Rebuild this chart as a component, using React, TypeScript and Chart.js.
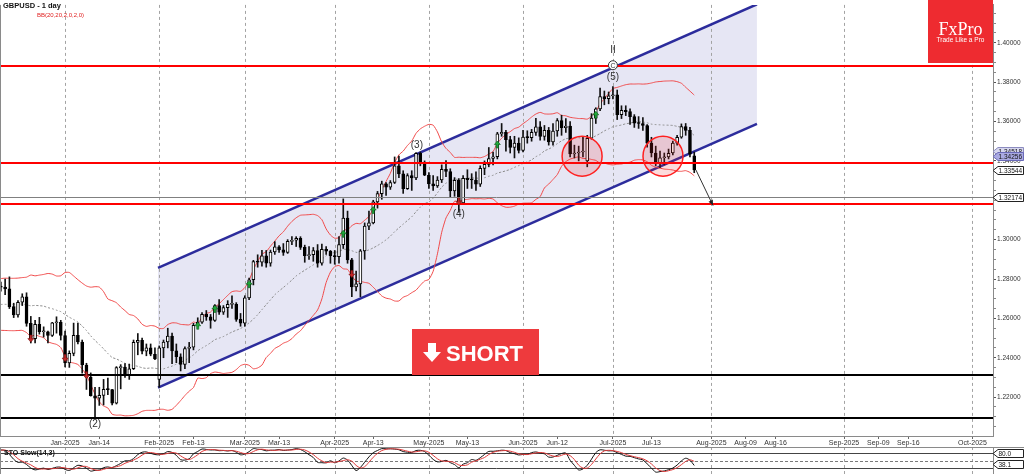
import React, { useEffect, useRef } from "react";
import { Chart, registerables } from "chart.js";

Chart.register(...registerables);

const FONT = "'Liberation Sans', Arial, Helvetica, sans-serif";

// ---------------- DATA ----------------
// bar index 0 = 2 Jan 2025 (trading days; future part counts calendar days)
const FIRST_INDEX = -36; // 11 Nov 2024

// Nov 2024 | Dec 2024 | Jan | Feb | Mar | Apr | May | Jun | Jul 2025
const opens = [
  1.2915, 1.2874, 1.2756, 1.2739, 1.2675, 1.2621, 1.2663, 1.2677, 1.2664, 1.2588, 1.2531, 1.2567, 1.257, 1.2668, 1.2687,
  1.2733, 1.266, 1.2669, 1.2694, 1.2745, 1.2743, 1.2764, 1.2759, 1.275, 1.266, 1.2618, 1.2682, 1.2709, 1.2575, 1.2497, 1.257, 1.2532, 1.2532, 1.2514, 1.2578, 1.258,
  1.2513, 1.2374, 1.2422, 1.2514, 1.248, 1.2363, 1.2301, 1.2207, 1.2195, 1.2209, 1.224, 1.2238, 1.2169, 1.235, 1.2353, 1.231, 1.2344, 1.2478, 1.2488, 1.2433, 1.2451, 1.2418,
  1.229, 1.245, 1.248, 1.251, 1.2435, 1.2405, 1.2366, 1.2447, 1.2454, 1.2565, 1.2581, 1.262, 1.2608, 1.2589, 1.2665, 1.2631, 1.2655, 1.2671, 1.2671, 1.2595,
  1.2576, 1.2704, 1.2796, 1.2888, 1.2886, 1.2918, 1.288, 1.2937, 1.2963, 1.2948, 1.2935, 1.2991, 1.2997, 1.3006, 1.2961, 1.2918, 1.2924, 1.2945, 1.288, 1.2951, 1.2942,
  1.2918, 1.2914, 1.2975, 1.311, 1.2897, 1.276, 1.2775, 1.2943, 1.3069, 1.3085, 1.3192, 1.3234, 1.3283, 1.3266, 1.329, 1.3375, 1.3334, 1.3259, 1.3325, 1.3313, 1.3438, 1.3384,
  1.3327, 1.3283, 1.3273, 1.3303, 1.3357, 1.3346, 1.3247, 1.3301, 1.3187, 1.3312, 1.3305, 1.3303, 1.3282, 1.3362, 1.3382, 1.3412, 1.3421, 1.3537, 1.3545, 1.3508, 1.3469, 1.349,
  1.3453, 1.3521, 1.3518, 1.3545, 1.3573, 1.3524, 1.3555, 1.3496, 1.3552, 1.3605, 1.3569, 1.3577, 1.3435, 1.344, 1.3445, 1.34, 1.3515, 1.3617, 1.3664, 1.3727, 1.3716,
  1.3731, 1.3735, 1.3635, 1.3657, 1.365, 1.3625, 1.3592, 1.359, 1.358, 1.349, 1.344, 1.3388, 1.3416, 1.342, 1.344, 1.349, 1.352, 1.3574, 1.3555, 1.3426,
];
const highs = [
  1.2935, 1.288, 1.277, 1.2749, 1.2694, 1.2668, 1.2711, 1.272, 1.2665, 1.26, 1.261, 1.2599, 1.2697, 1.2706, 1.2749,
  1.2745, 1.2697, 1.2716, 1.2763, 1.2768, 1.278, 1.2785, 1.28, 1.2811, 1.2677, 1.269, 1.2725, 1.273, 1.261, 1.259, 1.2605, 1.2557, 1.2535, 1.258, 1.2608, 1.259,
  1.2536, 1.2435, 1.2576, 1.2576, 1.249, 1.2372, 1.2323, 1.225, 1.225, 1.229, 1.2297, 1.224, 1.2355, 1.2365, 1.237, 1.2368, 1.249, 1.2523, 1.25, 1.247, 1.247, 1.245,
  1.246, 1.249, 1.255, 1.2525, 1.247, 1.242, 1.2455, 1.2478, 1.2575, 1.2603, 1.263, 1.264, 1.262, 1.267, 1.2695, 1.2665, 1.269, 1.2715, 1.268, 1.2625,
  1.2715, 1.2805, 1.2895, 1.2923, 1.2946, 1.2945, 1.2947, 1.299, 1.297, 1.298, 1.3, 1.3015, 1.3015, 1.3015, 1.2972, 1.2965, 1.296, 1.2975, 1.2977, 1.2965, 1.2945,
  1.2945, 1.3015, 1.3207, 1.3145, 1.2905, 1.284, 1.295, 1.3085, 1.3145, 1.32, 1.3245, 1.3297, 1.329, 1.33, 1.342, 1.3425, 1.335, 1.3335, 1.335, 1.3442, 1.3445, 1.34,
  1.334, 1.3325, 1.332, 1.338, 1.3402, 1.336, 1.3315, 1.331, 1.3325, 1.3355, 1.3335, 1.3345, 1.3375, 1.34, 1.3468, 1.3445, 1.3545, 1.359, 1.3555, 1.3525, 1.3525, 1.3517,
  1.3555, 1.3553, 1.356, 1.3616, 1.36, 1.358, 1.357, 1.359, 1.3615, 1.3632, 1.3615, 1.36, 1.348, 1.3475, 1.352, 1.353, 1.364, 1.367, 1.377, 1.3755, 1.375,
  1.3778, 1.376, 1.368, 1.368, 1.3665, 1.3635, 1.3625, 1.362, 1.3585, 1.352, 1.3475, 1.345, 1.344, 1.346, 1.35, 1.353, 1.3588, 1.359, 1.357, 1.3445,
];
const lows = [
  1.286, 1.2737, 1.271, 1.263, 1.2597, 1.2595, 1.2615, 1.2655, 1.258, 1.2487, 1.253, 1.2519, 1.256, 1.2652, 1.2674,
  1.2615, 1.262, 1.2637, 1.269, 1.2715, 1.271, 1.2738, 1.272, 1.265, 1.2604, 1.2606, 1.2665, 1.256, 1.2475, 1.2475, 1.252, 1.2505, 1.2475, 1.2508, 1.2525, 1.249,
  1.2353, 1.2351, 1.241, 1.247, 1.2322, 1.2239, 1.2205, 1.21, 1.2158, 1.216, 1.2212, 1.216, 1.2165, 1.2242, 1.23, 1.229, 1.234, 1.2415, 1.242, 1.241, 1.241, 1.239,
  1.225, 1.24, 1.245, 1.237, 1.2375, 1.2333, 1.2345, 1.2375, 1.244, 1.2555, 1.2575, 1.259, 1.255, 1.2585, 1.262, 1.262, 1.2605, 1.265, 1.2585, 1.256,
  1.256, 1.2695, 1.277, 1.286, 1.2865, 1.286, 1.2865, 1.2925, 1.2935, 1.292, 1.293, 1.2975, 1.2965, 1.295, 1.2885, 1.29, 1.289, 1.286, 1.287, 1.2925, 1.288,
  1.2875, 1.288, 1.2955, 1.288, 1.271, 1.274, 1.271, 1.29, 1.305, 1.308, 1.316, 1.3205, 1.3225, 1.3255, 1.3285, 1.3315, 1.3235, 1.3255, 1.325, 1.3305, 1.3375, 1.3325,
  1.326, 1.325, 1.3265, 1.329, 1.332, 1.3215, 1.322, 1.314, 1.318, 1.326, 1.326, 1.325, 1.327, 1.333, 1.337, 1.338, 1.341, 1.3525, 1.345, 1.344, 1.3415, 1.344,
  1.3445, 1.349, 1.35, 1.353, 1.3505, 1.3505, 1.348, 1.348, 1.3525, 1.353, 1.3545, 1.342, 1.3415, 1.34, 1.342, 1.337, 1.351, 1.359, 1.3655, 1.3685, 1.369,
  1.3715, 1.361, 1.3615, 1.363, 1.3585, 1.357, 1.3565, 1.3555, 1.347, 1.342, 1.3375, 1.3365, 1.338, 1.341, 1.343, 1.348, 1.3515, 1.353, 1.342, 1.334,
];
const closes = [
  1.2874, 1.2756, 1.2739, 1.2675, 1.2621, 1.2663, 1.2677, 1.2664, 1.2588, 1.2531, 1.2567, 1.257, 1.2668, 1.2687, 1.2733,
  1.266, 1.2669, 1.2694, 1.2745, 1.2743, 1.2764, 1.2759, 1.275, 1.266, 1.2618, 1.2682, 1.2709, 1.2575, 1.2497, 1.257, 1.2532, 1.2532, 1.2514, 1.2578, 1.258, 1.2513,
  1.2374, 1.2422, 1.2514, 1.248, 1.2363, 1.2301, 1.2207, 1.2195, 1.2209, 1.224, 1.2238, 1.2169, 1.235, 1.2353, 1.231, 1.2344, 1.2478, 1.2488, 1.2433, 1.2451, 1.2418, 1.2394,
  1.245, 1.248, 1.251, 1.2435, 1.2405, 1.2366, 1.2447, 1.2454, 1.2565, 1.2581, 1.262, 1.2608, 1.2589, 1.2665, 1.2631, 1.2655, 1.2671, 1.2671, 1.2595, 1.2576,
  1.2704, 1.2796, 1.2888, 1.2886, 1.2918, 1.288, 1.2937, 1.2963, 1.2948, 1.2935, 1.2991, 1.2997, 1.3006, 1.2961, 1.2918, 1.2924, 1.2945, 1.288, 1.2951, 1.2942, 1.2918,
  1.2914, 1.2975, 1.311, 1.2897, 1.276, 1.2775, 1.2943, 1.3069, 1.3085, 1.3192, 1.3234, 1.3283, 1.3266, 1.329, 1.3375, 1.3334, 1.3259, 1.3325, 1.3313, 1.3438, 1.3384, 1.3327,
  1.3283, 1.3273, 1.3303, 1.3357, 1.3346, 1.3247, 1.3301, 1.3187, 1.3312, 1.3305, 1.3303, 1.3282, 1.3362, 1.3382, 1.3412, 1.3421, 1.3537, 1.3545, 1.3508, 1.3469, 1.349, 1.3453,
  1.3521, 1.3518, 1.3545, 1.3573, 1.3524, 1.3555, 1.3496, 1.3552, 1.3605, 1.3569, 1.3577, 1.3435, 1.344, 1.3445, 1.345, 1.3515, 1.3617, 1.3664, 1.3727, 1.3716, 1.3731,
  1.3735, 1.3635, 1.3657, 1.365, 1.3625, 1.3592, 1.359, 1.358, 1.349, 1.344, 1.3388, 1.3416, 1.342, 1.3439, 1.349, 1.352, 1.3574, 1.3555, 1.3434, 1.3354,
];

// x axis ticks (bar index) and labels
const xTickIndex = [0, 8, 22, 30, 42, 50, 63, 72, 85, 94, 107, 115, 128, 137, 151, 159, 166, 182, 190, 197, 212];
const xTickLabels = [
  "Jan-2025", "Jan-14", "Feb-2025", "Feb-13", "Mar-2025", "Mar-13", "Apr-2025", "Apr-13", "May-2025", "May-13",
  "Jun-2025", "Jun-12", "Jul-2025", "Jul-13", "Aug-2025", "Aug-09", "Aug-16", "Sep-2025", "Sep-09", "Sep-16", "Oct-2025",
];
const monthStartIndex = [0, 22, 42, 63, 85, 107, 128, 151, 182, 212];
const priceTicks = [1.22, 1.24, 1.26, 1.28, 1.3, 1.34, 1.36, 1.38, 1.4];
const priceMinorStep = 0.005;

// drawn levels
const redLevels = [1.38825, 1.33913, 1.31793];
const blackLevels = [1.23139, 1.20929];
const grayLevels = [1.32174];
const axisMarkerPrices = [1.34518, 1.34256, 1.33544, 1.32174];

// channel
const channelX = [21.72, 161.65];
const channelUpper = [1.28564, 1.41955];
const channelLower = [1.22486, 1.35877];

// annotations (bar index, price)
const zoneX = [120.8, 139.7];
const zoneY = [1.34239, 1.34239];
const arrowX = [147.4, 151.4];
const arrowY = [1.33536, 1.31728];
const waveText = ["(2)", "(3)", "(4)", "(5)", "II"];
const waveX = [7, 82.2, 92, 128, 128];
const waveY = [1.20628, 1.34792, 1.31276, 1.38257, 1.39613];
const waveCircleX = 128;
const waveCircleY = 1.3886;
const upSignalX = [31, 35, 43, 65, 72, 101, 124];
const upSignalY = [1.256, 1.26454, 1.2771, 1.30271, 1.31477, 1.34807, 1.36313];
const downSignalX = [-8, 0, 5, 67, 92];
const downSignalY = [1.24997, 1.24008, 1.23139, 1.28277, 1.31964];

// stochastic panel
const stochLevels = [80, 50, 20];
const stochLastValue = 38.1;

// ---------------- SCALES ----------------
const X_MIN = -15.2;
const X_MAX = 216.8;
const PRICE_MIN = 1.20025;
const PRICE_MAX = 1.41924;
const VIEW_START = -16;

// ---------------- DERIVED SERIES ----------------
const N = closes.length;
const idxOf = (i: number) => FIRST_INDEX + i;

const wickData = closes.map((_, i) => ({ x: idxOf(i), y: [lows[i], highs[i]] }));
const bodyData = closes.map((c, i) => ({ x: idxOf(i), y: [Math.min(opens[i], c), Math.max(opens[i], c)] }));
const bodyColors = closes.map((c, i) => (c >= opens[i] ? "#ffffff" : "#000000"));

const bbMid: { x: number; y: number }[] = [];
const bbUp: { x: number; y: number }[] = [];
const bbLo: { x: number; y: number }[] = [];
for (let i = 19; i < N; i++) {
  let s = 0;
  for (let k = i - 19; k <= i; k++) s += closes[k];
  const m = s / 20;
  let v = 0;
  for (let k = i - 19; k <= i; k++) v += (closes[k] - m) ** 2;
  const sd = Math.sqrt(v / 20);
  const x = idxOf(i);
  if (x < VIEW_START) continue;
  bbMid.push({ x, y: m });
  bbUp.push({ x, y: m + 2 * sd });
  bbLo.push({ x, y: m - 2 * sd });
}

const rawK: (number | null)[] = closes.map((c, i) => {
  if (i < 13) return null;
  let hh = -Infinity;
  let ll = Infinity;
  for (let k = i - 13; k <= i; k++) {
    hh = Math.max(hh, highs[k]);
    ll = Math.min(ll, lows[k]);
  }
  return hh === ll ? 50 : ((c - ll) / (hh - ll)) * 100;
});
function sma(src: (number | null)[], n: number): (number | null)[] {
  return src.map((_, i) => {
    if (i < n - 1) return null;
    let s = 0;
    for (let k = i - n + 1; k <= i; k++) {
      const v = src[k];
      if (v == null) return null;
      s += v;
    }
    return s / n;
  });
}
const slowK = sma(rawK, 3);
const slowD = sma(slowK, 3);
const toPts = (arr: (number | null)[]) =>
  arr
    .map((v, i) => ({ x: idxOf(i), y: v }))
    .filter((p) => p.y != null && p.x >= VIEW_START) as { x: number; y: number }[];

const yTickValues: number[] = [];
for (let k = Math.ceil(PRICE_MIN / priceMinorStep); k * priceMinorStep <= PRICE_MAX; k++) {
  yTickValues.push(Number((k * priceMinorStep).toFixed(3)));
}
const isMajor = (v: number) => priceTicks.some((t) => Math.abs(t - v) < 1e-6);

// ---------------- DRAW HELPERS ----------------
function axisBox(ctx: CanvasRenderingContext2D, xl: number, yc: number, text: string, fill: string, stroke: string) {
  const h = 8;
  const tip = 5;
  const xr = 1023.5;
  ctx.beginPath();
  ctx.moveTo(xl, yc);
  ctx.lineTo(xl + tip, yc - h / 2);
  ctx.lineTo(xr, yc - h / 2);
  ctx.lineTo(xr, yc + h / 2);
  ctx.lineTo(xl + tip, yc + h / 2);
  ctx.closePath();
  ctx.fillStyle = fill;
  ctx.fill();
  ctx.strokeStyle = stroke;
  ctx.lineWidth = 1;
  ctx.stroke();
  ctx.fillStyle = "#111";
  ctx.font = `6.5px ${FONT}`;
  ctx.textAlign = "left";
  ctx.textBaseline = "middle";
  ctx.fillText(text, xl + tip + 0.5, yc + 0.5);
}

const mainDecor = {
  id: "mainDecor",
  beforeDatasetsDraw(chart: any) {
    const { ctx, chartArea } = chart;
    const { left, right, top, bottom } = chartArea;
    const xs = chart.scales.x;
    ctx.save();
    ctx.strokeStyle = "#a3a3a3";
    ctx.lineWidth = 1;
    ctx.setLineDash([3, 3]);
    for (const m of monthStartIndex) {
      const px = Math.round(xs.getPixelForValue(m)) + 0.5;
      if (px < left || px > right) continue;
      ctx.beginPath();
      ctx.moveTo(px, top);
      ctx.lineTo(px, bottom);
      ctx.stroke();
    }
    ctx.restore();
  },
  afterDatasetsDraw(chart: any) {
    const { ctx, chartArea } = chart;
    const { left, right, top, bottom } = chartArea;
    const xs = chart.scales.x;
    const ys = chart.scales.y;
    const X = (v: number) => xs.getPixelForValue(v);
    const Y = (v: number) => ys.getPixelForValue(v);
    ctx.save();
    ctx.beginPath();
    ctx.rect(left, top, right - left, bottom - top);
    ctx.clip();

    // horizontal levels
    ctx.setLineDash([]);
    ctx.strokeStyle = "#808080";
    ctx.lineWidth = 1;
    for (const p of grayLevels) {
      const py = Math.round(Y(p)) + 0.5;
      ctx.beginPath();
      ctx.moveTo(left, py);
      ctx.lineTo(right, py);
      ctx.stroke();
    }
    ctx.strokeStyle = "#ff0000";
    ctx.lineWidth = 2;
    for (const p of redLevels) {
      const py = Math.round(Y(p));
      ctx.beginPath();
      ctx.moveTo(left, py);
      ctx.lineTo(right, py);
      ctx.stroke();
    }
    ctx.strokeStyle = "#000000";
    for (const p of blackLevels) {
      const py = Math.round(Y(p));
      ctx.beginPath();
      ctx.moveTo(left, py);
      ctx.lineTo(right, py);
      ctx.stroke();
    }

    // red zones
    for (let i = 0; i < zoneX.length; i++) {
      ctx.beginPath();
      ctx.arc(X(zoneX[i]), Y(zoneY[i]), 20, 0, Math.PI * 2);
      ctx.fillStyle = "rgba(235,40,50,0.17)";
      ctx.fill();
      ctx.strokeStyle = "#ff2020";
      ctx.lineWidth = 1.5;
      ctx.stroke();
    }

    // projection arrow
    {
      const x0 = X(arrowX[0]);
      const y0 = Y(arrowY[0]);
      const x1 = X(arrowX[1]);
      const y1 = Y(arrowY[1]);
      ctx.strokeStyle = "#333";
      ctx.lineWidth = 1;
      ctx.beginPath();
      ctx.moveTo(x0, y0);
      ctx.lineTo(x1, y1);
      ctx.stroke();
      const a = Math.atan2(y1 - y0, x1 - x0);
      ctx.fillStyle = "#222";
      ctx.beginPath();
      ctx.moveTo(x1, y1);
      ctx.lineTo(x1 - 6 * Math.cos(a - 0.4), y1 - 6 * Math.sin(a - 0.4));
      ctx.lineTo(x1 - 6 * Math.cos(a + 0.4), y1 - 6 * Math.sin(a + 0.4));
      ctx.closePath();
      ctx.fill();
    }

    // signals
    for (let i = 0; i < upSignalX.length; i++) {
      const cx = X(upSignalX[i]);
      const cy = Y(upSignalY[i]);
      ctx.fillStyle = "#1faa3a";
      ctx.strokeStyle = "#0b5c1a";
      ctx.lineWidth = 0.6;
      ctx.beginPath();
      ctx.moveTo(cx, cy - 4);
      ctx.lineTo(cx + 3, cy - 0.5);
      ctx.lineTo(cx + 1, cy - 0.5);
      ctx.lineTo(cx + 1, cy + 3);
      ctx.lineTo(cx - 1, cy + 3);
      ctx.lineTo(cx - 1, cy - 0.5);
      ctx.lineTo(cx - 3, cy - 0.5);
      ctx.closePath();
      ctx.fill();
      ctx.stroke();
    }
    for (let i = 0; i < downSignalX.length; i++) {
      const cx = X(downSignalX[i]);
      const cy = Y(downSignalY[i]);
      ctx.fillStyle = "#c62828";
      ctx.strokeStyle = "#7a1010";
      ctx.lineWidth = 0.6;
      ctx.beginPath();
      ctx.moveTo(cx, cy + 4);
      ctx.lineTo(cx + 3, cy + 0.5);
      ctx.lineTo(cx + 1, cy + 0.5);
      ctx.lineTo(cx + 1, cy - 3);
      ctx.lineTo(cx - 1, cy - 3);
      ctx.lineTo(cx - 1, cy + 0.5);
      ctx.lineTo(cx - 3, cy + 0.5);
      ctx.closePath();
      ctx.fill();
      ctx.stroke();
    }

    // wave labels
    ctx.fillStyle = "#333";
    ctx.font = `10px ${FONT}`;
    ctx.textAlign = "center";
    ctx.textBaseline = "middle";
    for (let i = 0; i < waveText.length; i++) {
      ctx.fillText(waveText[i], X(waveX[i]), Y(waveY[i]));
    }
    {
      const cx = X(waveCircleX);
      const cy = Y(waveCircleY);
      ctx.beginPath();
      ctx.arc(cx, cy, 4.5, 0, Math.PI * 2);
      ctx.fillStyle = "#fff";
      ctx.fill();
      ctx.strokeStyle = "#333";
      ctx.lineWidth = 1;
      ctx.stroke();
      ctx.fillStyle = "#333";
      ctx.font = `7px ${FONT}`;
      ctx.fillText("C", cx, cy + 0.5);
    }
    ctx.restore();

    // SHORT button
    ctx.save();
    ctx.fillStyle = "#ee3a3d";
    ctx.fillRect(412, 329, 127, 46);
    ctx.fillStyle = "#ffffff";
    ctx.beginPath();
    ctx.moveTo(428, 343);
    ctx.lineTo(436, 343);
    ctx.lineTo(436, 352);
    ctx.lineTo(441, 352);
    ctx.lineTo(432, 362);
    ctx.lineTo(423, 352);
    ctx.lineTo(428, 352);
    ctx.closePath();
    ctx.fill();
    ctx.font = `bold 22px ${FONT}`;
    ctx.textAlign = "left";
    ctx.textBaseline = "alphabetic";
    ctx.fillText("SHORT", 446, 361);

    // FxPro logo
    ctx.fillStyle = "#ee2b30";
    ctx.fillRect(928, 0, 65, 63);
    ctx.fillStyle = "#ffffff";
    ctx.textAlign = "center";
    ctx.font = `18px 'Liberation Serif', 'DejaVu Serif', serif`;
    ctx.fillText("FxPro", 960.5, 35);
    ctx.font = `6.5px ${FONT}`;
    ctx.fillText("Trade Like a Pro", 960.5, 42);

    // title
    ctx.textAlign = "left";
    ctx.textBaseline = "middle";
    ctx.fillStyle = "#111";
    ctx.font = `bold 7.5px ${FONT}`;
    ctx.fillText("GBPUSD - 1 day", 3, 6);
    ctx.fillStyle = "#e02020";
    ctx.font = `6px ${FONT}`;
    ctx.fillText("BB(20,20,2,0,2,0)", 37, 15.5);

    // price markers on the axis (tick labels are drawn above them, z: 1)
    const fills = ["#d6d6ee", "#a9a9e2", "#ffffff", "#ffffff"];
    const strokes = ["#8c8cc0", "#6a6ab8", "#222", "#222"];
    axisMarkerPrices.forEach((p, i) => {
      axisBox(ctx, right, Math.round(ys.getPixelForValue(p)) + 0.5, p.toFixed(5), fills[i], strokes[i]);
    });
    ctx.restore();
  },
  afterDraw(chart: any) {
    const { ctx, chartArea } = chart;
    ctx.save();
    ctx.strokeStyle = "#8a8a8a";
    ctx.lineWidth = 1;
    ctx.beginPath();
    ctx.moveTo(0.5, chartArea.top);
    ctx.lineTo(0.5, chartArea.bottom);
    ctx.stroke();
    ctx.restore();
  },
};

const stochDecor = {
  id: "stochDecor",
  beforeDatasetsDraw(chart: any) {
    const { ctx, chartArea } = chart;
    const { left, right, top, bottom } = chartArea;
    const xs = chart.scales.x;
    const ys = chart.scales.y;
    ctx.save();
    ctx.strokeStyle = "#a3a3a3";
    ctx.lineWidth = 1;
    ctx.setLineDash([3, 3]);
    for (const m of monthStartIndex) {
      const px = Math.round(xs.getPixelForValue(m)) + 0.5;
      ctx.beginPath();
      ctx.moveTo(px, top);
      ctx.lineTo(px, bottom);
      ctx.stroke();
    }
    stochLevels.forEach((lv) => {
      const py = Math.round(ys.getPixelForValue(lv)) + 0.5;
      if (lv === 50) {
        ctx.setLineDash([3, 2]);
        ctx.strokeStyle = "#7a7a7a";
      } else {
        ctx.setLineDash([]);
        ctx.strokeStyle = "#444";
      }
      ctx.beginPath();
      ctx.moveTo(left, py);
      ctx.lineTo(right, py);
      ctx.stroke();
    });
    ctx.restore();
  },
  afterDraw(chart: any) {
    const { ctx, chartArea } = chart;
    const ys = chart.scales.y;
    ctx.save();
    ctx.strokeStyle = "#8a8a8a";
    ctx.lineWidth = 1;
    ctx.beginPath();
    ctx.moveTo(0, 0.5);
    ctx.lineTo(1024, 0.5);
    ctx.moveTo(0.5, 0);
    ctx.lineTo(0.5, chartArea.bottom);
    ctx.moveTo(chartArea.right + 0.5, 0);
    ctx.lineTo(chartArea.right + 0.5, chartArea.bottom);
    ctx.stroke();
    ctx.fillStyle = "#111";
    ctx.font = `bold 7px ${FONT}`;
    ctx.textAlign = "left";
    ctx.textBaseline = "middle";
    ctx.fillText("STO Slow(14,3)", 4, Math.round(ys.getPixelForValue(80)));
    axisBox(ctx, chartArea.right, Math.round(ys.getPixelForValue(80)) + 0.5, "80.0", "#ffffff", "#222");
    axisBox(ctx, chartArea.right, Math.round(ys.getPixelForValue(stochLastValue)) + 0.5, stochLastValue.toFixed(1), "#ffffff", "#222");
    ctx.restore();
  },
};

export default function App() {
  const mainRef = useRef<HTMLCanvasElement>(null);
  const stochRef = useRef<HTMLCanvasElement>(null);

  useEffect(() => {
    document.body.style.margin = "0";
    Chart.defaults.font.family = FONT;
    Chart.defaults.color = "#333";

    const main = new Chart(mainRef.current as HTMLCanvasElement, {
      type: "bar",
      data: {
        datasets: [
          {
            type: "line",
            label: "channelLower",
            data: channelX.map((x, i) => ({ x, y: channelLower[i] })),
            borderColor: "#2c2c9c",
            borderWidth: 2.5,
            pointRadius: 0,
            fill: false,
            order: 10,
          } as any,
          {
            type: "line",
            label: "channelUpper",
            data: channelX.map((x, i) => ({ x, y: channelUpper[i] })),
            borderColor: "#2c2c9c",
            borderWidth: 2.5,
            pointRadius: 0,
            fill: { target: 0, above: "rgba(165,165,215,0.28)", below: "rgba(165,165,215,0.28)" },
            order: 10,
          } as any,
          {
            type: "line",
            label: "bbMid",
            data: bbMid,
            borderColor: "#8c8c8c",
            borderDash: [2, 2],
            borderWidth: 1,
            pointRadius: 0,
            tension: 0.2,
            order: 9,
          } as any,
          {
            type: "line",
            label: "bbUp",
            data: bbUp,
            borderColor: "#f04a4a",
            borderWidth: 1,
            pointRadius: 0,
            tension: 0.2,
            order: 9,
          } as any,
          {
            type: "line",
            label: "bbLo",
            data: bbLo,
            borderColor: "#f04a4a",
            borderWidth: 1,
            pointRadius: 0,
            tension: 0.2,
            order: 9,
          } as any,
          {
            type: "bar",
            label: "wicks",
            data: wickData as any,
            backgroundColor: "#111",
            barThickness: 1,
            grouped: false,
            order: 2,
          } as any,
          {
            type: "bar",
            label: "bodies",
            data: bodyData as any,
            backgroundColor: bodyColors,
            borderColor: "#000",
            borderWidth: 1,
            borderSkipped: false,
            barThickness: 3,
            minBarLength: 1,
            grouped: false,
            order: 1,
          } as any,
        ],
      },
      options: {
        responsive: false,
        animation: false,
        devicePixelRatio: 1,
        events: [],
        layout: { padding: 0 },
        plugins: {
          legend: { display: false },
          tooltip: { enabled: false },
          filler: { drawTime: "beforeDatasetsDraw" } as any,
        },
        scales: {
          x: {
            type: "linear",
            min: X_MIN,
            max: X_MAX,
            offset: false,
            afterBuildTicks: (scale: any) => {
              scale.ticks = xTickIndex.map((v) => ({ value: v }));
            },
            afterFit: (scale: any) => {
              scale.height = 11;
            },
            ticks: {
              autoSkip: false,
              maxRotation: 0,
              minRotation: 0,
              padding: 0,
              font: { size: 7 },
              color: "#333",
              callback: (_v: any, i: number) => xTickLabels[i],
            },
            grid: { display: true, drawOnChartArea: false, drawTicks: true, tickLength: 3, color: "#666", offset: false },
            border: { display: true, color: "#8a8a8a" },
          } as any,
          y: {
            type: "linear",
            position: "right",
            z: 1,
            min: PRICE_MIN,
            max: PRICE_MAX,
            afterBuildTicks: (scale: any) => {
              scale.ticks = yTickValues.map((v) => ({ value: v }));
            },
            afterFit: (scale: any) => {
              scale.width = 31;
            },
            ticks: {
              autoSkip: false,
              padding: 1,
              font: { size: 6.5 },
              color: "#333",
              callback: (v: any) => (isMajor(Number(v)) ? Number(v).toFixed(5) : ""),
            },
            grid: {
              display: true,
              drawOnChartArea: false,
              drawTicks: true,
              tickLength: 3,
              color: (c: any) => (c.tick && isMajor(c.tick.value) ? "#555" : "#888"),
            },
            border: { display: true, color: "#8a8a8a" },
          } as any,
        },
      },
      plugins: [mainDecor],
    } as any);

    const stoch = new Chart(stochRef.current as HTMLCanvasElement, {
      type: "line",
      data: {
        datasets: [
          {
            label: "%D",
            data: toPts(slowD),
            borderColor: "#e03a3a",
            borderWidth: 1,
            pointRadius: 0,
            tension: 0.3,
          },
          {
            label: "%K",
            data: toPts(slowK),
            borderColor: "#111",
            borderWidth: 1,
            pointRadius: 0,
            tension: 0.3,
          },
        ],
      },
      options: {
        responsive: false,
        animation: false,
        devicePixelRatio: 1,
        events: [],
        layout: { padding: { right: 31, left: 0, top: 0, bottom: 0 } },
        plugins: { legend: { display: false }, tooltip: { enabled: false } },
        scales: {
          x: { type: "linear", min: X_MIN, max: X_MAX, display: false },
          y: { type: "linear", min: -2.4, max: 103.9, display: false },
        },
      },
      plugins: [stochDecor],
    } as any);

    return () => {
      main.destroy();
      stoch.destroy();
    };
  }, []);

  return (
    <div style={{ position: "relative", width: 1024, height: 474, background: "#fff", overflow: "hidden" }}>
      <canvas
        ref={mainRef}
        width={1024}
        height={447}
        style={{ position: "absolute", left: 0, top: 0, width: 1024, height: 447 }}
      />
      <canvas
        ref={stochRef}
        width={1024}
        height={27}
        style={{ position: "absolute", left: 0, top: 447, width: 1024, height: 27 }}
      />
    </div>
  );
}
